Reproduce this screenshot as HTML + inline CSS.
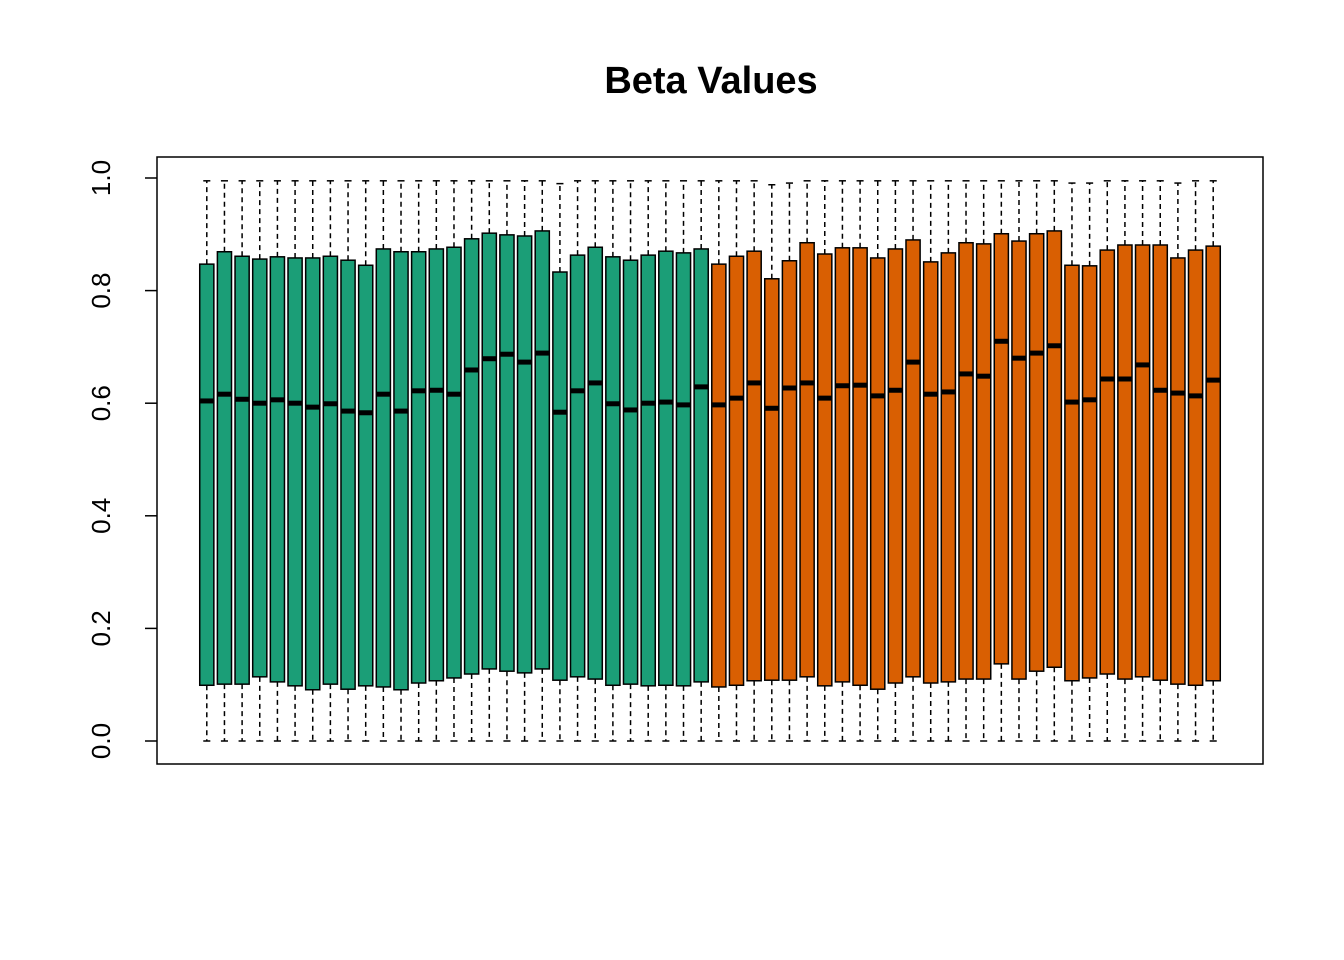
<!DOCTYPE html>
<html><head><meta charset="utf-8"><style>
html,body{margin:0;padding:0;background:#fff;}
svg{display:block;font-family:"Liberation Sans",Arial,sans-serif;}
</style></head><body>
<svg id="chart" width="1344" height="960" viewBox="0 0 1344 960">
<rect x="0" y="0" width="1344" height="960" fill="#fff"/>
<text x="711" y="93" text-anchor="middle" font-size="38" font-weight="bold">Beta Values</text>
<rect x="157" y="157" width="1106" height="607" fill="none" stroke="#000" stroke-width="1.5"/>
<g id="yaxis"></g>
<g id="boxes"></g>
</svg>
<script>
const q3 = [0.847,0.869,0.861,0.856,0.860,0.858,0.858,0.861,0.854,0.845,0.874,0.869,0.869,0.874,0.877,0.892,0.902,0.899,0.897,0.906,0.833,0.863,0.877,0.860,0.854,0.863,0.870,0.867,0.874,
0.847,0.861,0.870,0.821,0.853,0.885,0.865,0.876,0.876,0.858,0.874,0.890,0.851,0.867,0.885,0.883,0.901,0.888,0.901,0.906,0.845,0.844,0.872,0.881,0.881,0.881,0.858,0.872,0.879];
const medians = [0.604,0.616,0.607,0.600,0.606,0.600,0.593,0.599,0.586,0.583,0.616,0.586,0.622,0.623,0.616,0.659,0.679,0.687,0.673,0.689,0.584,0.622,0.636,0.599,0.588,0.600,0.602,0.597,0.629,
0.597,0.609,0.636,0.591,0.627,0.636,0.609,0.631,0.632,0.613,0.623,0.673,0.616,0.620,0.652,0.648,0.710,0.680,0.689,0.702,0.602,0.606,0.643,0.643,0.668,0.623,0.618,0.613,0.641];
const q1 = [0.099,0.101,0.101,0.114,0.105,0.098,0.091,0.101,0.092,0.098,0.096,0.091,0.103,0.107,0.112,0.119,0.128,0.124,0.121,0.128,0.108,0.114,0.110,0.099,0.101,0.098,0.099,0.098,0.105,
0.096,0.099,0.107,0.108,0.108,0.114,0.098,0.105,0.099,0.092,0.103,0.114,0.103,0.105,0.110,0.110,0.137,0.110,0.124,0.131,0.107,0.112,0.119,0.110,0.114,0.108,0.101,0.099,0.107];
const whiskerHigh = [0.995,0.995,0.995,0.995,0.995,0.995,0.995,0.995,0.995,0.995,0.995,0.995,0.995,0.995,0.995,0.995,0.995,0.995,0.995,0.995,0.990,0.995,0.995,0.995,0.995,0.995,0.995,0.995,0.995,
0.995,0.995,0.995,0.988,0.991,0.995,0.995,0.995,0.995,0.995,0.995,0.995,0.995,0.995,0.995,0.995,0.995,0.995,0.995,0.995,0.991,0.991,0.995,0.995,0.995,0.995,0.991,0.995,0.995];
const whiskerLow = new Array(58).fill(0.0);
const groups = [].concat(new Array(29).fill("A"), new Array(29).fill("B"));
const yTicks = [0.0,0.2,0.4,0.6,0.8,1.0];
const yTickLabels = ["0.0","0.2","0.4","0.6","0.8","1.0"];

const NS="http://www.w3.org/2000/svg";
const n=q3.length;
const px0=157, px1=1263;
const unit=(px1-px0)/(n*1.08);
const xScale=i=>px0+(0.04*n+0.5+i)*unit;
const yScale=v=>741-v*563;
function mk(tag,attrs,parent){const e=document.createElementNS(NS,tag);for(const k in attrs)e.setAttribute(k,attrs[k]);parent.appendChild(e);return e;}
const ya=document.getElementById('yaxis');
yTicks.forEach((t,i)=>{
  const y=yScale(t);
  const tk=mk('line',{x1:145,x2:157,y1:y,y2:y,stroke:'#000','stroke-width':1.5},ya);
  
  
  const tx=mk('text',{x:0,y:0,transform:`translate(110,${y}) rotate(-90)`,'text-anchor':'middle','font-size':26},ya);
  tx.textContent=yTickLabels[i];
  
  
});
const bg=document.getElementById('boxes');
const colors={A:'#1B9E77',B:'#D95F02'};
const bw=unit*0.8;
for(let i=0;i<n;i++){
  const cx=xScale(i);
  const g=mk('g',{},bg);
  
  
  mk('line',{x1:cx,x2:cx,y1:yScale(q3[i]),y2:yScale(whiskerHigh[i]),stroke:'#000','stroke-width':1.5,'stroke-dasharray':'5,4'},g);
  mk('line',{x1:cx,x2:cx,y1:yScale(q1[i]),y2:yScale(whiskerLow[i]),stroke:'#000','stroke-width':1.5,'stroke-dasharray':'5,4'},g);
  mk('line',{x1:cx-bw/4,x2:cx+bw/4,y1:yScale(whiskerHigh[i]),y2:yScale(whiskerHigh[i]),stroke:'#000','stroke-width':1.5},g);
  mk('line',{x1:cx-bw/4,x2:cx+bw/4,y1:yScale(whiskerLow[i]),y2:yScale(whiskerLow[i]),stroke:'#000','stroke-width':1.5},g);
  mk('rect',{x:cx-bw/2,y:yScale(q3[i]),width:bw,height:yScale(q1[i])-yScale(q3[i]),fill:colors[groups[i]],stroke:'#000','stroke-width':1.5},g);
  mk('line',{x1:cx-bw/2,x2:cx+bw/2,y1:yScale(medians[i]),y2:yScale(medians[i]),stroke:'#000','stroke-width':5},g);
}
</script>
</body></html>
